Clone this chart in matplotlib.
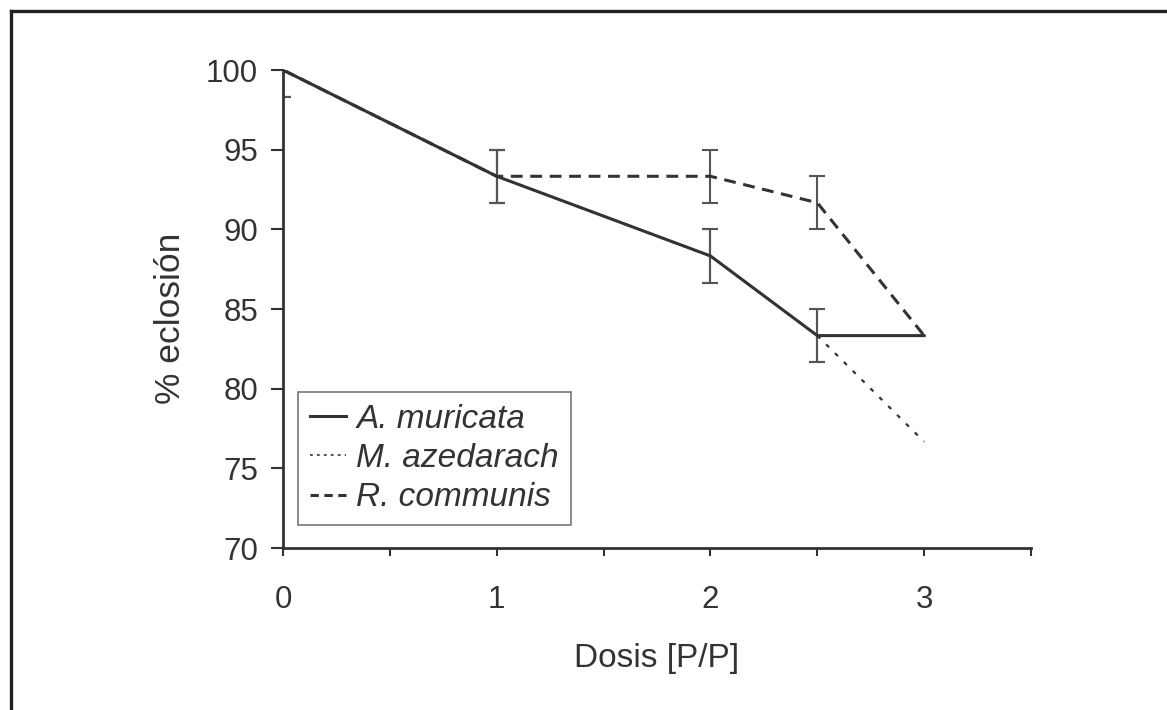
import matplotlib
matplotlib.use("Agg")
import matplotlib.pyplot as plt
from matplotlib.lines import Line2D

# Dose levels and mean hatching percentages per extract
dosis = [0, 1, 2, 2.5, 3]
a_muricata = [100.0, 93.33, 88.33, 83.33, 83.33]
m_azedarach = [100.0, 93.33, 88.33, 83.33, 76.67]
r_communis = [100.0, 93.33, 93.33, 91.67, 83.33]
err_muricata = [1.67, 1.67, 1.67, 1.67, 0.0]
err_azedarach = [1.67, 1.67, 1.67, 1.67, 0.0]
err_communis = [1.67, 1.67, 1.67, 1.67, 0.0]

series_names = ["A. muricata", "M. azedarach", "R. communis"]
x_ticks = [0, 0.5, 1, 1.5, 2, 2.5, 3, 3.5]
x_ticklabels = ["0", "", "1", "", "2", "", "3", ""]
y_ticks = [70, 75, 80, 85, 90, 95, 100]

plt.rcParams["font.family"] = ["Liberation Sans", "DejaVu Sans"]
plt.rcParams["lines.scale_dashes"] = False

ink = "#333333"
bar_col = "#555555"

fig = plt.figure(figsize=(11.67, 7.10), dpi=100)
fig.patch.set_facecolor("white")
ax = fig.add_axes([283 / 1167, 1 - 548 / 710, 748 / 1167, 478 / 710])

# Error bars (only where a deviation exists), drawn under the lines
for y, e in [(a_muricata, err_muricata), (m_azedarach, err_azedarach),
             (r_communis, err_communis)]:
    xs = [d for d, v in zip(dosis, e) if v > 0]
    ys = [m for m, v in zip(y, e) if v > 0]
    es = [v for v in e if v > 0]
    ax.errorbar(xs, ys, yerr=es, fmt="none", ecolor=bar_col,
                elinewidth=1.5, capsize=6, capthick=1.5, zorder=2)

ax.plot(dosis, m_azedarach, color=ink, lw=1.6, linestyle=(0, (3.0, 6.0)),
        label=series_names[1], zorder=3)
ax.plot(dosis, r_communis, color=ink, lw=2.2, linestyle=(0, (8.5, 5.5)),
        label=series_names[2], zorder=3)
ax.plot(dosis, a_muricata, color=ink, lw=2.2, linestyle="-",
        label=series_names[0], zorder=4)

ax.set_xlim(0, 3.5)
ax.set_ylim(70, 100)
ax.set_xticks(x_ticks)
ax.set_xticklabels(x_ticklabels, fontsize=22.5, color=ink)
ax.set_yticks(y_ticks)
ax.set_yticklabels([str(v) for v in y_ticks], fontsize=22.5, color=ink)
ax.tick_params(axis="x", direction="out", length=6, width=1.5, color=ink, pad=21)
ax.tick_params(axis="y", direction="out", length=9, width=1.5, color=ink, pad=9)

for side in ["top", "right"]:
    ax.spines[side].set_visible(False)
for side in ["left", "bottom"]:
    ax.spines[side].set_color(ink)
    ax.spines[side].set_linewidth(2)

ax.set_xlabel("Dosis [P/P]", fontsize=24, color=ink, labelpad=20)
ax.set_ylabel("% eclosión", fontsize=25.5, color=ink)
ax.yaxis.set_label_coords(-0.128, 0.481)

handles = [
    Line2D([], [], color=ink, lw=2.2, linestyle="-"),
    Line2D([], [], color=ink, lw=1.2, linestyle=(0, (2.0, 3.0))),
    Line2D([], [], color=ink, lw=2.2, linestyle=(0, (6.0, 4.0))),
]
leg = ax.legend(handles, series_names, loc="upper left",
                bbox_to_anchor=(15 / 748, (548 - 392) / 478),
                borderaxespad=0, frameon=True, fancybox=False,
                prop={"family": "Liberation Sans", "style": "italic", "size": 24},
                handlelength=1.1, handletextpad=0.3, labelspacing=0.25,
                borderpad=0.35)
leg.get_frame().set_edgecolor("#555555")
leg.get_frame().set_linewidth(1.2)
for t in leg.get_texts():
    t.set_color(ink)

# Outer panel border (left and top edges)
fig.add_artist(Line2D([10.5 / 1167, 10.5 / 1167], [0, 1 - 11 / 710],
                      transform=fig.transFigure, color="#222222", lw=2.4))
fig.add_artist(Line2D([10.5 / 1167, 1], [1 - 11 / 710, 1 - 11 / 710],
                      transform=fig.transFigure, color="#222222", lw=2.4))

fig.savefig("out.png", dpi=100, facecolor="white")
